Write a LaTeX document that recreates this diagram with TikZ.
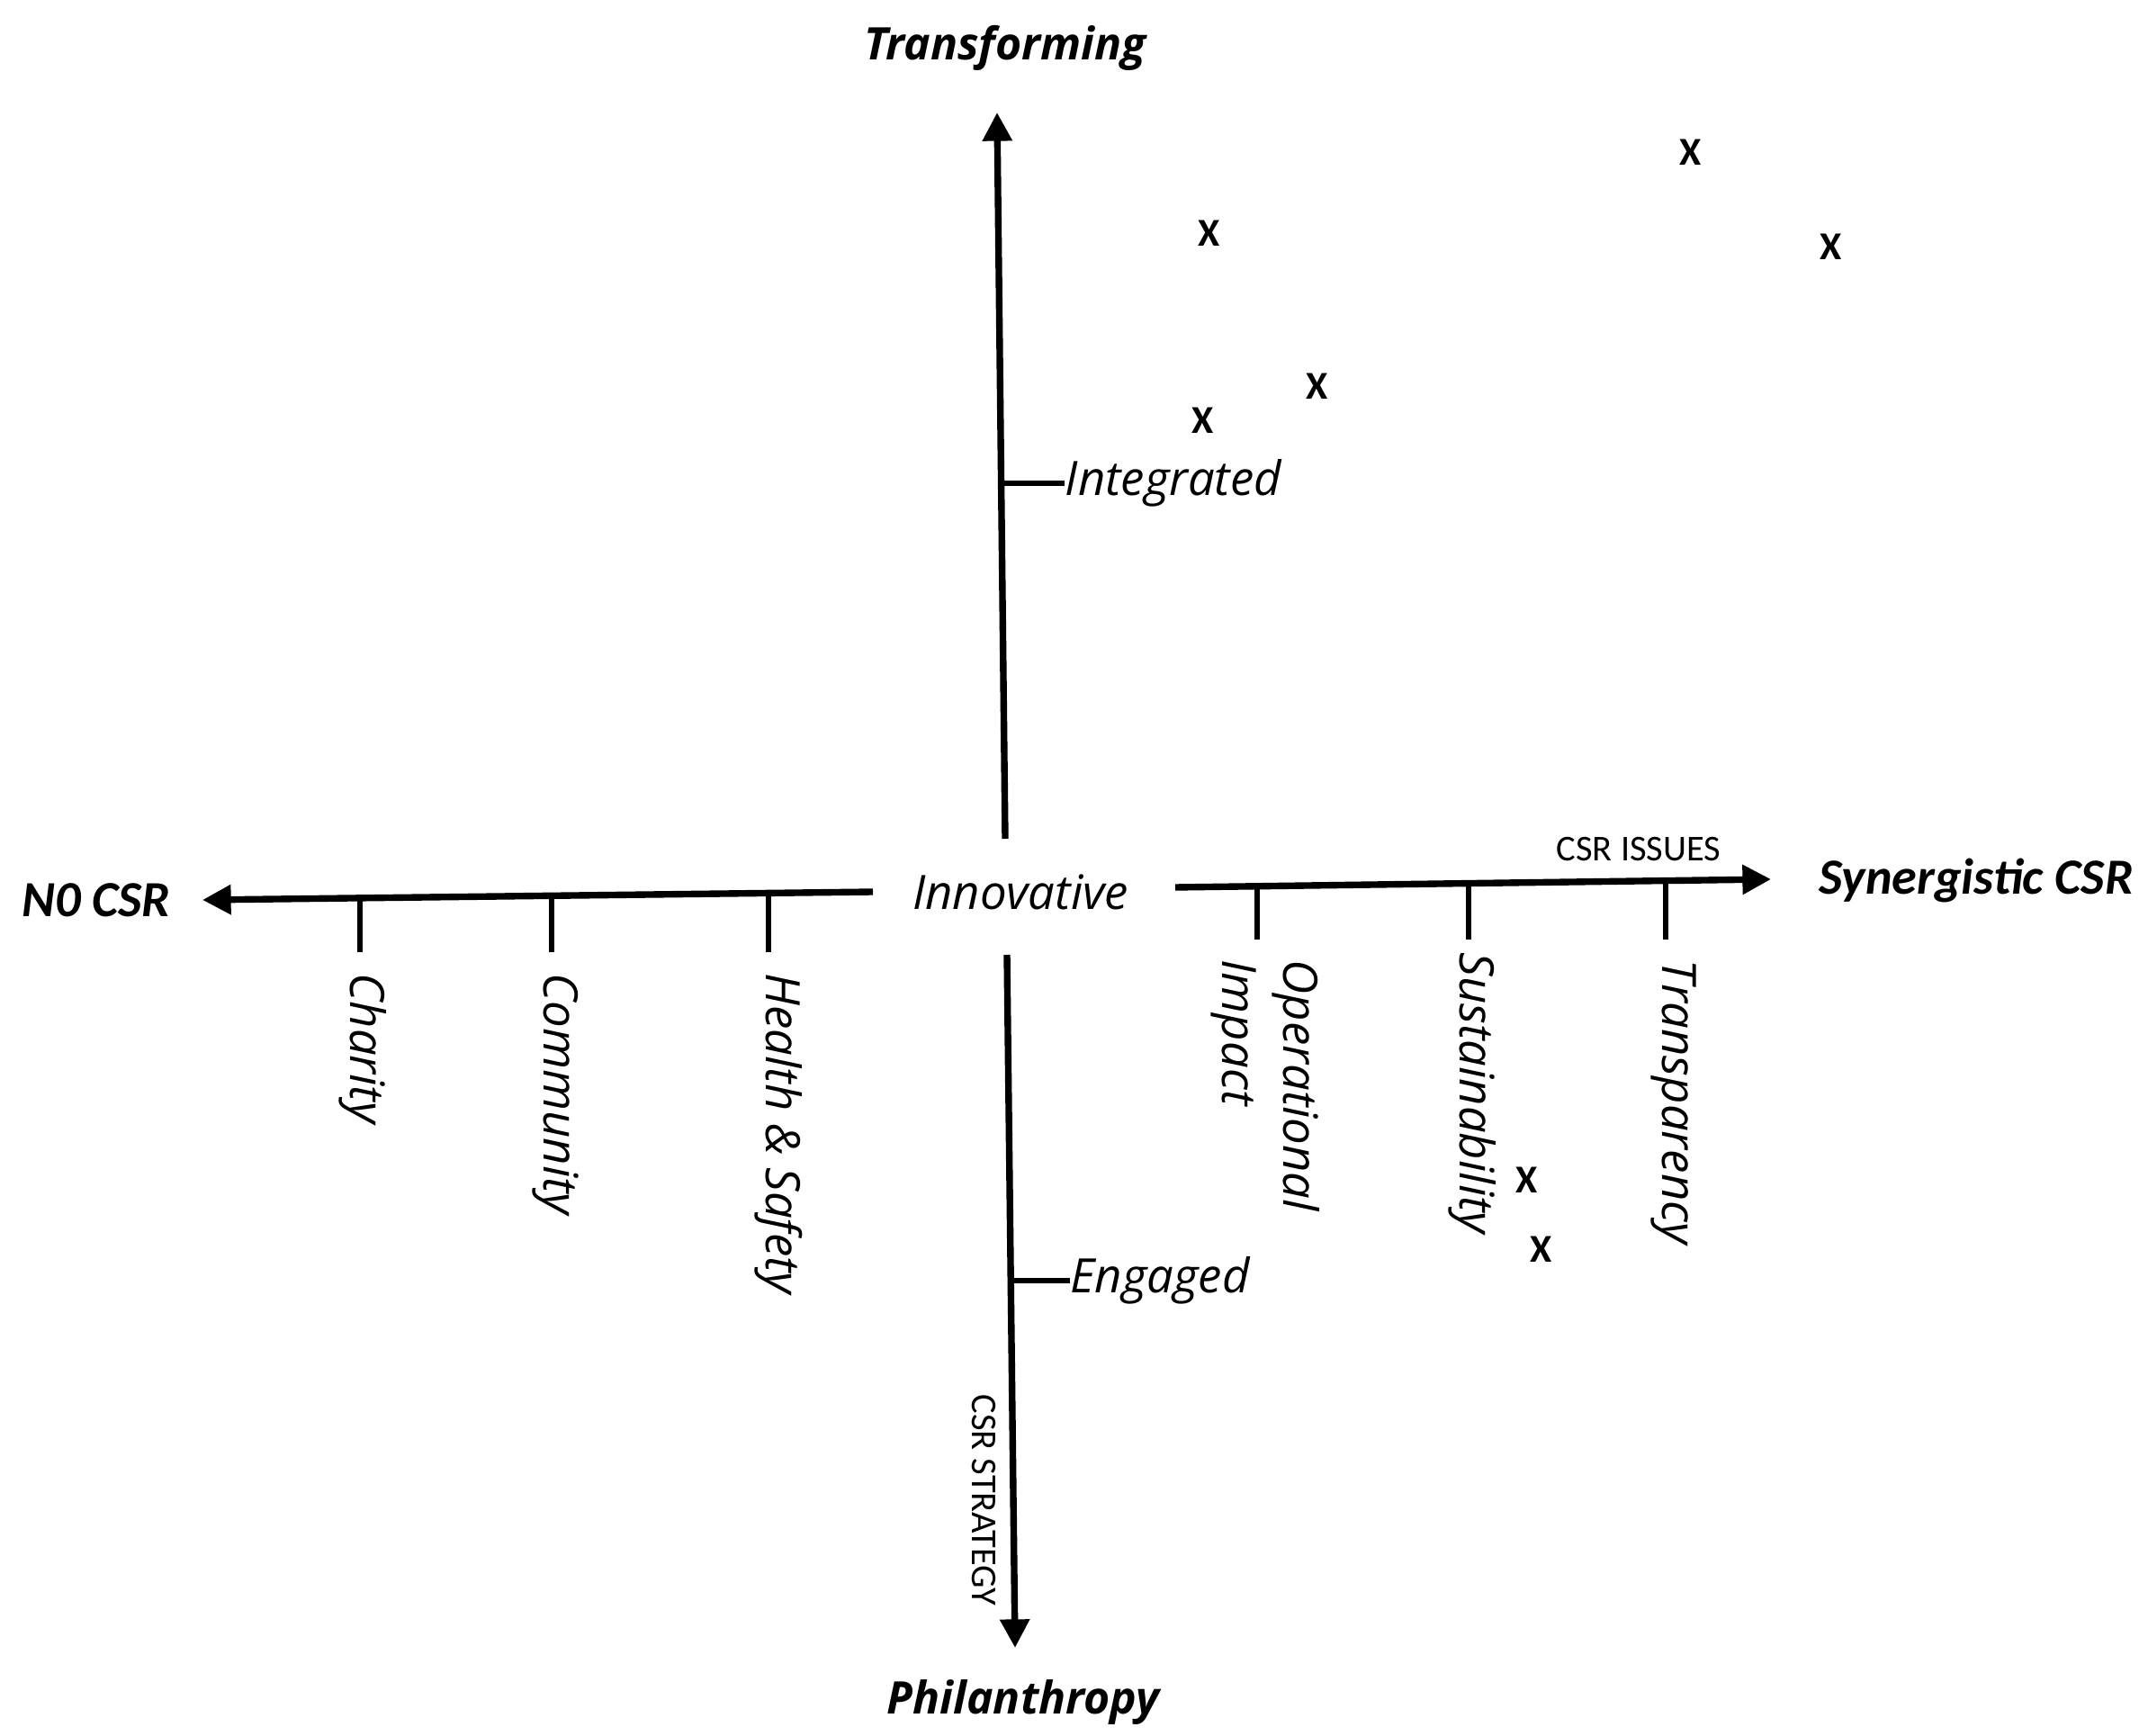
\documentclass[tikz,border=0pt]{standalone}
\usepackage{fontspec}
\setmainfont{Open Sans}
\newfontfamily\calib{Carlito}
\usetikzlibrary{arrows.meta}
\begin{document}
\begin{tikzpicture}
    [y=-1cm,
     Pole/.style={font=\fontsize{14.2}{17}\selectfont\bfseries\itshape,inner sep=0pt},
     Side/.style={font=\calib\fontsize{16}{19}\selectfont\bfseries\itshape,inner sep=0pt},
     Level/.style={font=\fontsize{15}{19.2}\selectfont\itshape,inner sep=0pt},
     Issue/.style={Level,rotate=-90,anchor=west,align=left},
     Caption/.style={font=\calib\fontsize{11.5}{14}\selectfont,inner sep=0pt},
     Mark/.style={font=\calib\fontsize{12.5}{15}\selectfont\bfseries,inner sep=0pt},
     Axis/.style={line width=2.1pt,-{Triangle[length=9pt,width=9pt]}},
     Tick/.style={line width=1.7pt}]
    \useasboundingbox (0,0) rectangle (23.87,19.29);
    % poles
    \node[Pole] (trans) at (11.17,0.53) {Transforming};
    \node[Pole] (phil) at (11.37,18.92) {Philanthropy};
    \node[Side] (nocsr) at (1.07,10.00) {N0 CSR};
    \node[Side] (syn) at (21.96,9.78) {Synergistic CSR};
    \node[Level] (innov) at (11.34,9.91) {Innovative};
    % axes
    \coordinate (up0) at (11.17,9.32);
    \coordinate (up1) at (11.08,1.25);
    \coordinate (dn0) at (11.19,10.61);
    \coordinate (dn1) at (11.28,18.31);
    \coordinate (lt0) at (9.70,9.91);
    \coordinate (lt1) at (2.25,10.00);
    \coordinate (rt0) at (13.06,9.86);
    \coordinate (rt1) at (19.68,9.77);
    \draw[Axis] (up0) -- (up1);
    \draw[Axis] (dn0) -- (dn1);
    \draw[Axis] (lt0) -- (lt1);
    \draw[Axis] (rt0) -- (rt1);
    \node[Caption] (issues) at (18.21,9.44) {CSR ISSUES};
    \node[Caption,rotate=-90] (strat) at (10.93,16.67) {CSR STRATEGY};
    % strategy levels
    \node[Level,anchor=west] (integ) at (11.83,5.37) {Integrated};
    \node[Level,anchor=west] (engag) at (11.89,14.23) {Engaged};
    \coordinate (ti) at (11.13,5.37);
    \coordinate (te) at (11.23,14.23);
    \draw[Tick] (ti) -- (integ.west);
    \draw[Tick] (te) -- (engag.west);
    % issues
    \node[Issue] (charity) at (4.03,10.81) {Charity};
    \node[Issue] (commu) at (6.18,10.81) {Community};
    \node[Issue] (health) at (8.65,10.81) {Health \& Safety};
    \node[Issue] (oper) at (14.06,10.66) {Operational\\Impact};
    \node[Issue] (susta) at (16.36,10.58) {Sustainability};
    \node[Issue] (transp) at (18.60,10.66) {Transparency};
    \draw[Tick] (charity.west) ++(-0.03,-0.23) -- +(0,-0.60);
    \draw[Tick] (commu.west) ++(-0.05,-0.23) -- +(0,-0.63);
    \draw[Tick] (health.west) ++(-0.11,-0.23) -- +(0,-0.66);
    \draw[Tick] (oper.west) ++(-0.09,-0.22) -- +(0,-0.59);
    \draw[Tick] (susta.west) ++(-0.04,-0.14) -- +(0,-0.62);
    \draw[Tick] (transp.west) ++(-0.09,-0.22) -- +(0,-0.65);
    % firms
    \node[Mark] (m1) at (13.44,2.59) {X};
    \node[Mark] (m2) at (18.79,1.69) {X};
    \node[Mark] (m3) at (20.35,2.74) {X};
    \node[Mark] (m4) at (14.64,4.29) {X};
    \node[Mark] (m5) at (13.37,4.67) {X};
    \node[Mark] (m6) at (16.97,13.11) {X};
    \node[Mark] (m7) at (17.13,13.88) {X};
\end{tikzpicture}
\end{document}
